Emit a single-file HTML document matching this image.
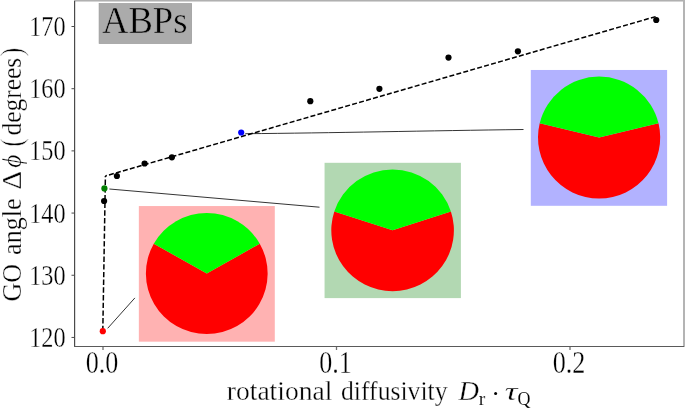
<!DOCTYPE html>
<html>
<head>
<meta charset="utf-8">
<title>ABPs GO angle</title>
<style>
html,body{margin:0;padding:0;background:#fff;}
body{width:685px;height:408px;overflow:hidden;}
svg{display:block;will-change:transform;}
text{font-family:"Liberation Serif",serif;fill:#000;stroke:#fff;stroke-width:0.3px;}
</style>
</head>
<body>
<svg width="685" height="408" viewBox="0 0 685 408">
<rect x="0" y="0" width="685" height="408" fill="#ffffff"/>

<!-- axes spines -->
<rect x="74" y="0" width="611" height="1" fill="#b0b0b0"/>
<rect x="74" y="1" width="611" height="1" fill="#d4d4d4"/>
<rect x="683" y="0" width="2" height="347" fill="#b4b4b4"/>
<rect x="74" y="1" width="1.2" height="346" fill="#4a4a4a"/>
<rect x="74" y="346" width="610" height="1" fill="#5a5a5a"/>

<!-- ticks -->
<g stroke="#2a2a2a" stroke-width="0.85">
<line x1="71.5" y1="26.50" x2="74" y2="26.50"/>
<line x1="71.5" y1="88.69" x2="74" y2="88.69"/>
<line x1="71.5" y1="150.88" x2="74" y2="150.88"/>
<line x1="71.5" y1="213.07" x2="74" y2="213.07"/>
<line x1="71.5" y1="275.26" x2="74" y2="275.26"/>
<line x1="71.5" y1="337.45" x2="74" y2="337.45"/>
</g>
<g stroke="#707070" stroke-width="1.3">
<line x1="103.0" y1="347" x2="103.0" y2="350"/>
<line x1="336.5" y1="347" x2="336.5" y2="350"/>
<line x1="570.0" y1="347" x2="570.0" y2="350"/>
</g>

<!-- y tick labels -->
<g font-size="29" text-anchor="end">
<text x="65.6" y="36.00" textLength="36.4" lengthAdjust="spacingAndGlyphs">170</text>
<text x="65.6" y="98.18" textLength="36.4" lengthAdjust="spacingAndGlyphs">160</text>
<text x="65.6" y="160.36" textLength="36.4" lengthAdjust="spacingAndGlyphs">150</text>
<text x="65.6" y="222.54" textLength="36.4" lengthAdjust="spacingAndGlyphs">140</text>
<text x="65.6" y="284.72" textLength="36.4" lengthAdjust="spacingAndGlyphs">130</text>
<text x="65.6" y="346.90" textLength="36.4" lengthAdjust="spacingAndGlyphs">120</text>
</g>
<!-- x tick labels -->
<g font-size="30.5" text-anchor="middle">
<text x="102.1" y="372.5" textLength="32.6" lengthAdjust="spacingAndGlyphs">0.0</text>
<text x="335.6" y="372.5" textLength="32.6" lengthAdjust="spacingAndGlyphs">0.1</text>
<text x="569.1" y="372.5" textLength="32.6" lengthAdjust="spacingAndGlyphs">0.2</text>
</g>

<!-- axis labels -->
<g id="xlabel" font-size="27">
<text id="xl1" x="226.8" y="399.7" textLength="105.5" lengthAdjust="spacingAndGlyphs">rotational</text>
<text id="xl2" x="341.0" y="399.7" textLength="106.6" lengthAdjust="spacingAndGlyphs">diffusivity</text>
<text id="xl3" x="458.4" y="399.7" font-style="italic" textLength="20.5" lengthAdjust="spacingAndGlyphs">D</text>
<text id="xl4" x="478.8" y="404.6" font-size="19.6" style="stroke-width:0.1px">r</text>
<circle id="xl5" cx="495.6" cy="393.4" r="1.5" fill="#000"/>
<text id="xl6" x="504.8" y="399.7" font-size="25.5" font-style="italic" textLength="12.8" lengthAdjust="spacingAndGlyphs">τ</text>
<text id="xl7" x="517.6" y="404.6" font-size="19.6" style="stroke-width:0.1px" textLength="13" lengthAdjust="spacingAndGlyphs">Q</text>
</g>
<g id="ylabel" transform="translate(21,301.1) rotate(-90)" font-size="27">
<text id="yl1" x="-0.5" y="0" textLength="37.5" lengthAdjust="spacingAndGlyphs">GO</text>
<text id="yl2" x="46.2" y="0" textLength="56.4" lengthAdjust="spacingAndGlyphs">angle</text>
<text id="yl3" x="111.6" y="0" textLength="18.5" lengthAdjust="spacingAndGlyphs">Δ</text>
<text id="yl4" x="133.4" y="0" font-style="italic" textLength="13" lengthAdjust="spacingAndGlyphs">ϕ</text>
<text id="yl5" x="154.4" y="0.8" font-size="31" style="stroke-width:0.7px" textLength="8.6" lengthAdjust="spacingAndGlyphs">(</text>
<text id="yl6" x="165.6" y="0" textLength="77.6" lengthAdjust="spacingAndGlyphs">degrees</text>
<text id="yl7" x="244.8" y="0.8" font-size="31" style="stroke-width:0.7px" textLength="8.6" lengthAdjust="spacingAndGlyphs">)</text>
</g>

<!-- inset boxes -->
<rect x="138.84" y="206.05" width="135.96" height="135.62" fill="#ffb2b2"/>
<rect x="324.56" y="162.8" width="136.34" height="135.3" fill="#b2d8b2"/>
<rect x="530.8" y="69.97" width="136.3" height="135.83" fill="#b2b2ff"/>

<!-- pies -->
<g id="pies">
<path d="M206.77 273.55 L153.79 243.73 A60.87 60.55 0 1 0 259.75 243.73 Z" fill="#ff0000"/>
<path d="M206.77 273.55 L259.75 243.73 A60.87 60.55 0 0 0 153.79 243.73 Z" fill="#00ff00"/>
<path d="M392.6 230.3 L334.30 211.48 A61.3 60.9 0 1 0 450.90 211.48 Z" fill="#ff0000"/>
<path d="M392.6 230.3 L450.90 211.48 A61.3 60.9 0 0 0 334.30 211.48 Z" fill="#00ff00"/>
<path d="M599.1 137.55 L539.69 123.32 A61.1 60.95 0 1 0 658.51 123.32 Z" fill="#ff0000"/>
<path d="M599.1 137.55 L658.51 123.32 A61.1 60.95 0 0 0 539.69 123.32 Z" fill="#00ff00"/>
</g>

<!-- annotation lines -->
<g stroke="#000" stroke-width="0.8" fill="none">
<line x1="107.7" y1="328.3" x2="134.9" y2="297.9"/>
<line x1="109.4" y1="189" x2="319.5" y2="207.2"/>
<path d="M245.3 133.7 C 330 133.0, 430 130.7, 523.5 129.5"/>
</g>

<!-- dashed fit line -->
<g fill="none" stroke="#000" stroke-width="1.5">
<line x1="102.8" y1="331.2" x2="105.4" y2="176" stroke-dasharray="5.4 2.3" stroke-dashoffset="0"/>
<line x1="105.4" y1="176" x2="655.6" y2="16.6" stroke-dasharray="5.0 2.233" stroke-dashoffset="3.48"/>
</g>

<!-- data points -->
<g fill="#000">
<circle cx="104.1" cy="201" r="3.1"/>
<circle cx="116.9" cy="176" r="3.1"/>
<circle cx="144.6" cy="163.5" r="3.1"/>
<circle cx="171.9" cy="157.3" r="3.1"/>
<circle cx="310.3" cy="101.2" r="3.1"/>
<circle cx="379.4" cy="88.8" r="3.1"/>
<circle cx="448.5" cy="57.6" r="3.1"/>
<circle cx="517.9" cy="51.3" r="3.1"/>
<circle cx="656.25" cy="20" r="3.1"/>
</g>
<circle cx="102.8" cy="331.2" r="3.1" fill="#ff0000"/>
<circle cx="104.4" cy="188.4" r="3.1" fill="#008000"/>
<circle cx="241.2" cy="132.5" r="3.1" fill="#0000ff"/>

<!-- ABPs label -->
<rect x="99.1" y="3.6" width="92.5" height="39.9" fill="#ababab" stroke="#999999" stroke-width="0.7"/>
<text id="abps" x="102" y="32.6" font-size="38.5" style="stroke:#ababab;stroke-width:0.5px" textLength="85.5" lengthAdjust="spacingAndGlyphs">ABPs</text>
</svg>
</body>
</html>
